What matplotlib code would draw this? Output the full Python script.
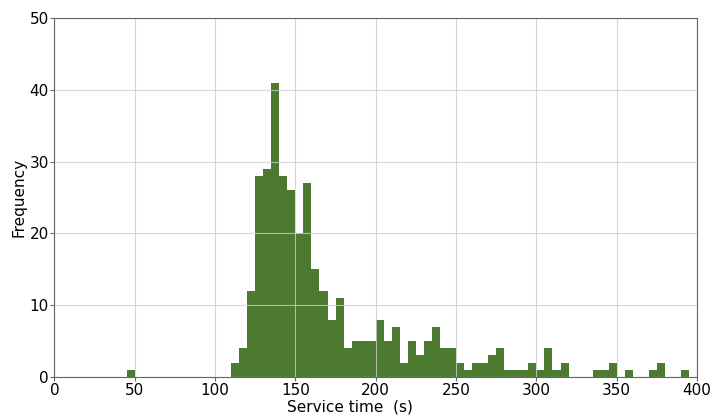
import numpy as np
import matplotlib.pyplot as plt

# histogram bins of width 5 s, counts
bin_starts = [45] + list(range(110, 395, 5))
counts = [1,
          2, 4, 12, 28, 29, 41, 28, 26, 20, 27,   # 110-160
          15, 12, 8, 11, 4, 5, 5, 5, 8, 5,        # 160-210
          7, 2, 5, 3, 5, 7, 4, 4, 2, 1,           # 210-260
          2, 2, 3, 4, 1, 1, 1, 2, 1, 4,           # 260-310
          1, 2, 0, 0, 0, 1, 1, 2, 0, 1,           # 310-360
          0, 0, 1, 2, 0, 0, 1]                    # 360-395
bin_width = 5

fig, ax = plt.subplots(figsize=(7.15, 4.17), dpi=100)
edges = np.arange(0, 405, bin_width)
ax.hist(bin_starts, bins=edges, weights=counts, color='#4d7a31')

ax.set_xlim(0, 400)
ax.set_ylim(0, 50)
ax.set_xlabel("Service time  (s)", fontsize=11, labelpad=1)
ax.xaxis.set_label_coords(0.46, -0.064)
ax.set_ylabel("Frequency", fontsize=11, labelpad=2)
ax.tick_params(labelsize=11, length=3, pad=1, color='#666666')
for s in ax.spines.values():
    s.set_color('#666666')
ax.grid(True, color='#cccccc', linewidth=0.8, alpha=0.8)

fig.subplots_adjust(left=0.076, right=0.975, top=0.957, bottom=0.096)
fig.savefig("out.png")
